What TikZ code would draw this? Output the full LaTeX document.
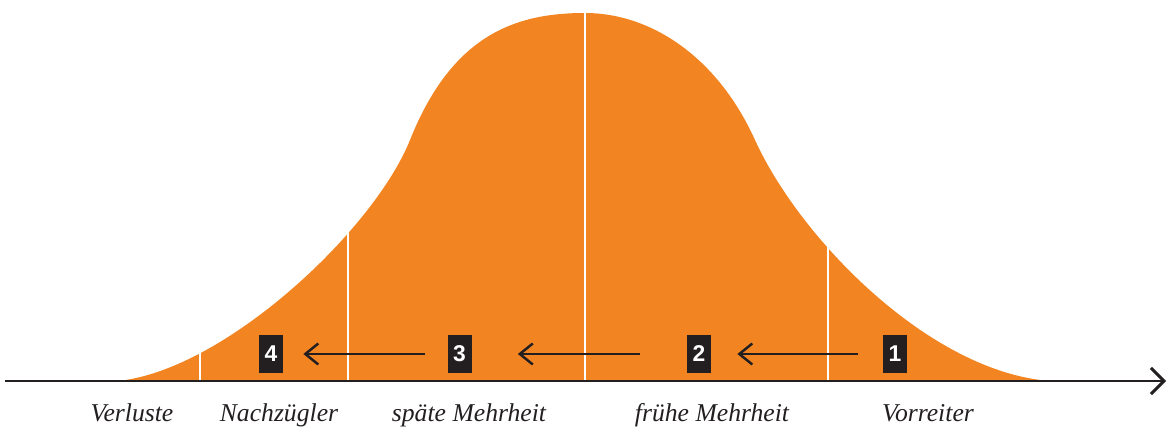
\documentclass[tikz,border=0pt]{standalone}
\usepackage{fontspec}
\setmainfont{Liberation Serif}
\newfontfamily\boxfont{Liberation Sans}
\usetikzlibrary{arrows.meta}
\definecolor{bellorange}{RGB}{242,133,34}
\definecolor{inkblack}{RGB}{35,31,32}
\begin{document}
\begin{tikzpicture}[x=0.02cm, y=-0.02cm,
  numbox/.style={fill=inkblack, text=white, font=\boxfont\bfseries\fontsize{13}{13}\selectfont, minimum width=0.48cm, minimum height=0.76cm, inner sep=0pt},
  phase/.style={anchor=base, text=inkblack, font=\itshape\fontsize{14.6}{16}\selectfont},
  divider/.style={draw=white, line width=1.6pt},
  back/.style={draw=inkblack, line width=1.4pt, -{Straight Barb[length=0.26cm, width=0.42cm]}}]
\useasboundingbox (0,0) rectangle (1167,428);
\fill[bellorange] (118,381) .. controls (225,370) and (374,230) .. (410,140)
  .. controls (452,35) and (515,13) .. (585,13)
  .. controls (650,13) and (717,56) .. (755,140)
  .. controls (800,239) and (930,372) .. (1050,381) -- cycle;
\draw[divider] (200,381) -- (200,345);
\draw[divider] (348,381) -- (348,228);
\draw[divider] (585,381) -- (585,5);
\draw[divider] (828,381) -- (828,240);
\coordinate (ax0) at (5,381);
\coordinate (ax1) at (1166,381);
\draw[draw=inkblack, line width=1.7pt, -{Straight Barb[length=0.26cm, width=0.52cm]}] (ax0) -- (ax1);
\node[numbox] (b1) at (895,354) {1};
\node[numbox] (b2) at (699,354) {2};
\node[numbox] (b3) at (459.5,354) {3};
\node[numbox] (b4) at (271,354) {4};
\draw[back, shorten <=0.5cm, shorten >=0.52cm] (b1.west) -- (b2.east);
\draw[back, shorten <=0.94cm, shorten >=0.92cm] (b2.west) -- (b3.east);
\draw[back, shorten <=0.44cm, shorten >=0.4cm] (b3.west) -- (b4.east);
\node[phase] (verluste) at (132,422) {Verluste};
\node[phase] (nachzuegler) at (279,422) {Nachzügler};
\node[phase] (spaete) at (469,422) {späte Mehrheit};
\node[phase] (fruehe) at (712,422) {frühe Mehrheit};
\node[phase] (vorreiter) at (928,422) {Vorreiter};
\end{tikzpicture}
\end{document}
